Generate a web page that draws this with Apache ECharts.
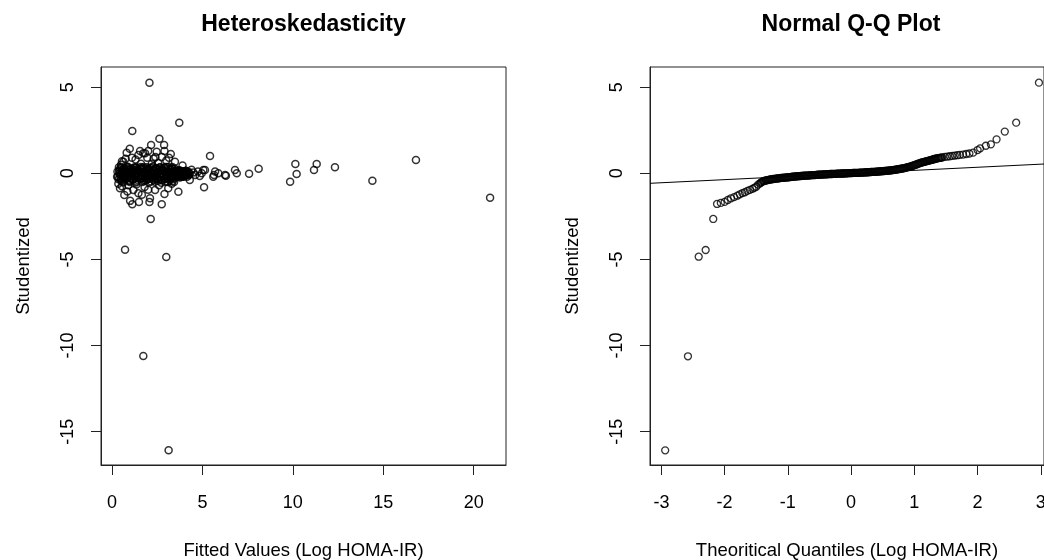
<!DOCTYPE html>
<html>
<head>
<meta charset="utf-8">
<script src="https://cdn.jsdelivr.net/npm/echarts@6/dist/echarts.min.js"></script>
<style>
  html, body { margin: 0; padding: 0; background: #fff; }
  #main { width: 1044px; height: 560px; }
</style>
</head>
<body>
<div id="main"></div>
<script>
// Left panel: fitted values vs studentized residuals
const fittedValues = [
  // dense band
  0.36,0.41,0.44,0.52,0.55,0.61,0.64,0.71,0.74,0.79,0.86,0.90,0.96,0.99,1.06,1.09,
  1.16,1.20,1.24,1.31,1.34,1.41,1.44,1.51,1.56,1.59,1.66,1.69,1.76,1.80,1.84,1.91,
  1.94,2.01,2.06,2.09,2.16,2.19,2.26,2.30,2.34,2.41,2.46,2.49,2.56,2.60,2.64,2.71,
  2.74,2.81,2.86,2.89,2.96,3.00,3.04,3.11,3.14,3.21,3.26,3.29,3.36,3.40,3.44,3.51,
  3.56,3.59,3.66,3.70,3.74,3.81,3.86,3.89,3.96,4.00,4.06,4.11,4.16,4.21,4.26,
  0.39,0.47,0.50,0.58,0.63,0.67,0.73,0.77,0.83,0.88,0.93,0.98,1.03,1.08,1.13,1.18,
  1.22,1.28,1.33,1.38,1.43,1.48,1.53,1.58,1.63,1.68,1.73,1.78,1.83,1.88,1.93,1.98,
  2.03,2.08,2.13,2.18,2.23,2.28,2.33,2.38,2.43,2.48,2.53,2.58,2.63,2.68,2.73,2.78,
  2.83,2.88,2.93,2.98,3.03,3.08,3.13,3.18,3.23,3.28,3.33,3.38,3.43,3.48,3.53,3.58,
  3.63,3.68,3.73,3.78,3.83,3.88,3.93,3.98,4.03,4.08,4.13,4.18,4.23,4.30,
  0.33,0.38,0.43,0.49,0.54,0.59,0.66,0.69,0.76,0.81,0.84,0.91,0.95,1.01,1.04,1.11,
  1.14,1.19,1.26,1.29,1.36,1.39,1.46,1.49,1.54,1.61,1.64,1.71,1.74,1.79,1.86,1.89,
  1.96,1.99,2.04,2.11,2.14,2.21,2.24,2.29,2.36,2.39,2.44,2.51,2.54,2.61,2.66,2.69,
  2.76,2.79,2.84,2.91,2.94,3.01,3.06,3.09,3.16,3.19,3.24,3.31,3.34,3.41,3.46,3.49,
  3.54,3.61,3.64,3.71,3.76,3.84,3.91,3.99,4.09,
  // above the band
  2.07,3.72,1.12,2.62,2.88,2.16,0.98,0.81,1.73,3.25,5.42,2.47,1.46,1.83,0.63,3.48,
  2.30,1.95,2.75,1.30,3.00,2.00,2.55,1.60,0.50,3.90,2.90,1.10,2.20,2.40,0.55,0.75,
  1.55,3.15,
  // below the band
  0.44,0.68,1.18,1.46,1.12,1.49,2.07,2.75,2.10,2.38,3.11,3.67,2.14,0.72,3.00,1.73,
  3.13,1.00,5.09,0.35,0.55,1.80,2.60,3.30,4.30,3.94,2.90,0.90,1.35,2.00,1.65,0.85,
  // right tail and edges
  5.05,5.14,4.96,5.64,5.70,5.88,6.30,6.25,5.60,4.50,4.60,4.75,6.80,6.90,7.58,8.11,
  9.85,10.14,10.21,11.17,11.32,12.33,14.40,16.81,20.91,4.40,4.85,0.28,0.30
];
const studentized = [
  -0.35,0.22,-0.10,0.31,-0.46,0.05,-0.24,0.14,-0.33,0.25,-0.12,0.29,-0.44,0.07,-0.22,0.16,
  -0.37,0.20,-0.08,0.33,-0.48,0.03,-0.26,0.12,-0.34,0.24,-0.11,0.30,-0.45,0.06,-0.23,0.15,
  -0.36,0.21,-0.09,0.32,-0.47,0.04,-0.25,0.13,-0.32,0.26,-0.13,0.28,-0.43,0.08,-0.21,0.17,
  -0.38,0.19,-0.07,0.34,-0.49,0.02,-0.27,0.11,-0.35,0.23,-0.10,0.30,-0.44,0.06,-0.24,0.14,
  -0.20,0.12,-0.06,0.16,-0.24,0.03,-0.13,0.08,-0.18,0.11,-0.05,0.14,-0.20,0.04,-0.10,
  0.10,-0.30,0.36,-0.15,-0.52,0.25,-0.05,0.12,-0.28,0.38,-0.17,-0.50,0.27,-0.03,0.08,-0.32,
  0.34,-0.13,-0.54,0.23,-0.07,0.11,-0.29,0.37,-0.16,-0.51,0.26,-0.04,0.09,-0.31,0.35,-0.14,
  -0.53,0.24,-0.06,0.13,-0.27,0.39,-0.18,-0.49,0.28,-0.02,0.07,-0.33,0.33,-0.12,-0.55,0.22,
  -0.08,0.10,-0.30,0.36,-0.15,-0.50,0.25,-0.05,0.11,-0.29,0.37,-0.16,-0.51,0.26,-0.04,-0.10,
  0.06,-0.16,0.18,-0.08,-0.22,0.12,-0.03,0.05,-0.14,0.15,-0.06,-0.12,0.09,-0.02,
  -0.20,0.35,0.00,-0.40,0.18,-0.15,0.28,-0.30,0.08,-0.18,0.37,0.02,-0.42,0.20,-0.13,0.26,
  -0.32,0.10,-0.22,0.33,-0.02,-0.38,0.16,-0.17,0.30,-0.28,0.06,-0.19,0.36,0.01,-0.41,0.19,
  -0.14,0.27,-0.31,0.09,-0.21,0.34,-0.01,-0.39,0.17,-0.16,0.29,-0.29,0.07,-0.20,0.35,0.00,
  -0.40,0.18,-0.15,0.28,-0.30,0.08,-0.18,0.37,0.02,-0.42,0.20,-0.13,0.26,-0.32,0.10,-0.12,
  0.15,-0.18,0.08,-0.15,0.12,-0.05,0.10,-0.12,0.06,
  5.26,2.94,2.45,2.01,1.64,1.64,1.43,1.20,1.16,1.12,1.00,1.25,1.06,1.16,0.67,0.67,
  0.85,0.90,0.95,0.80,0.75,1.30,0.60,0.55,0.50,0.45,1.30,0.90,0.55,0.95,0.70,0.85,
  1.30,0.90,
  -0.87,-1.26,-0.97,-1.16,-1.80,-1.67,-1.67,-1.80,-1.45,-0.97,-0.87,-1.07,-2.65,-4.43,-4.86,-10.60,
  -16.08,-1.60,-0.81,-0.60,-0.75,-0.80,-0.70,-0.60,-0.39,-0.20,-1.20,-0.70,-0.65,-0.95,-1.25,-1.05,
  0.19,0.19,0.00,-0.10,0.10,0.00,-0.14,-0.10,-0.20,0.05,-0.10,0.10,0.19,0.00,-0.02,0.27,
  -0.49,0.54,-0.04,0.19,0.54,0.35,-0.43,0.77,-1.42,0.20,-0.15,-0.20,0.10
];

// Right panel: normal Q-Q
const qqTheoretical = [
  -2.94,-2.58,-2.41,-2.30,-2.18,-2.12,-2.06,-2.00,-1.95,-1.90,-1.85,-1.80,-1.76,-1.72,-1.68,-1.64,
  -1.60,-1.56,-1.53,-1.50,-1.47,
  -1.44,-1.41,-1.38,-1.35,-1.32,-1.29,-1.26,-1.23,-1.20,-1.17,-1.14,-1.11,-1.08,-1.05,-1.02,-0.99,
  -0.96,-0.93,-0.90,-0.87,-0.84,-0.81,-0.78,-0.75,-0.72,-0.69,-0.66,-0.63,-0.60,-0.57,-0.54,-0.51,
  -0.48,-0.45,-0.42,-0.39,-0.36,-0.33,-0.30,-0.27,-0.24,-0.21,-0.18,-0.15,-0.12,-0.09,-0.06,-0.03,
  0.00,0.03,0.06,0.09,0.12,0.15,0.18,0.21,0.24,0.27,0.30,0.33,0.36,0.39,0.42,0.45,
  0.48,0.51,0.54,0.57,0.60,0.63,0.66,0.69,0.72,0.75,0.78,0.81,0.84,0.87,0.90,0.93,
  0.96,0.99,1.02,1.05,1.08,1.11,1.14,1.17,1.20,1.23,1.26,1.29,1.32,1.35,1.38,1.41,1.44,
  -1.425,-1.395,-1.365,-1.335,-1.305,-1.275,-1.245,-1.215,-1.185,-1.155,-1.125,-1.095,
  -1.065,-1.035,-1.005,-0.975,-0.945,-0.915,-0.885,-0.855,-0.825,-0.795,-0.765,-0.735,
  -0.705,-0.675,-0.645,-0.615,-0.585,-0.555,-0.525,-0.495,-0.465,-0.435,-0.405,-0.375,
  -0.345,-0.315,-0.285,-0.255,-0.225,-0.195,-0.165,-0.135,-0.105,-0.075,-0.045,-0.015,
  0.015,0.045,0.075,0.105,0.135,0.165,0.195,0.225,0.255,0.285,0.315,0.345,
  0.375,0.405,0.435,0.465,0.495,0.525,0.555,0.585,0.615,0.645,0.675,0.705,
  0.735,0.765,0.795,0.825,0.855,0.885,0.915,0.945,0.975,1.005,1.035,1.065,
  1.095,1.125,1.155,1.185,1.215,1.245,1.275,1.305,1.335,1.365,1.395,1.425,
  1.48,1.52,1.56,1.60,1.64,1.68,1.72,1.77,1.82,1.87,1.93,2.00,2.04,2.13,2.21,2.30,
  2.43,2.61,2.97
];
const qqSample = [
  -16.08,-10.62,-4.84,-4.45,-2.65,-1.78,-1.72,-1.66,-1.55,-1.45,-1.38,-1.30,-1.22,-1.15,-1.10,-1.02,
  -0.96,-0.90,-0.84,-0.78,-0.66,
  -0.58,-0.50,-0.45,-0.42,-0.39,-0.37,-0.35,-0.33,-0.32,-0.30,-0.29,-0.27,-0.26,-0.25,-0.24,-0.23,
  -0.22,-0.20,-0.19,-0.18,-0.17,-0.16,-0.15,-0.14,-0.13,-0.13,-0.12,-0.11,-0.10,-0.10,-0.09,-0.08,
  -0.08,-0.07,-0.06,-0.06,-0.05,-0.04,-0.04,-0.03,-0.03,-0.02,-0.02,-0.01,-0.01,0.00,0.00,0.01,
  0.01,0.02,0.02,0.03,0.03,0.04,0.04,0.05,0.06,0.06,0.07,0.08,0.08,0.09,0.10,0.11,
  0.12,0.13,0.14,0.15,0.16,0.17,0.19,0.20,0.22,0.24,0.26,0.28,0.30,0.33,0.36,0.39,
  0.42,0.46,0.50,0.54,0.58,0.62,0.65,0.68,0.71,0.74,0.77,0.80,0.83,0.86,0.88,0.90,0.92,
  -0.54,-0.47,-0.43,-0.40,-0.38,-0.36,-0.34,-0.325,-0.31,-0.295,-0.28,-0.265,
  -0.255,-0.245,-0.235,-0.225,-0.21,-0.195,-0.185,-0.175,-0.165,-0.155,-0.145,-0.135,
  -0.13,-0.125,-0.115,-0.105,-0.10,-0.095,-0.085,-0.08,-0.075,-0.065,-0.06,-0.055,
  -0.045,-0.04,-0.035,-0.03,-0.025,-0.02,-0.015,-0.01,-0.005,0.00,0.005,0.01,
  0.015,0.02,0.025,0.03,0.035,0.04,0.045,0.055,0.06,0.065,0.075,0.08,
  0.085,0.095,0.105,0.115,0.125,0.135,0.145,0.155,0.165,0.18,0.195,0.21,
  0.23,0.25,0.27,0.29,0.315,0.345,0.375,0.405,0.44,0.48,0.52,0.56,
  0.60,0.635,0.665,0.695,0.725,0.755,0.785,0.815,0.845,0.87,0.89,0.91,
  0.95,0.97,0.99,1.01,1.03,1.05,1.07,1.09,1.12,1.15,1.20,1.35,1.45,1.60,1.68,1.97,
  2.42,2.94,5.26
];
const qqLineX = [-3.18, 3.05];
const qqLineY = [-0.58, 0.54];

const leftXTicks = [0, 5, 10, 15, 20];
const rightXTicks = [-3, -2, -1, 0, 1, 2, 3];
const yTicks = [-15, -10, -5, 0, 5];

const FONT = "'Liberation Sans', Arial, sans-serif";
const INK = '#222';

function xAxisFor(gridIndex, min, max, ticks, name) {
  return {
    type: 'value', gridIndex, min, max,
    axisLine: { show: true, onZero: false, lineStyle: { color: INK, width: 1 } },
    splitLine: { show: false },
    axisTick: { show: true, length: 10, customValues: ticks, lineStyle: { color: INK, width: 1 } },
    axisLabel: { customValues: ticks, margin: 29, fontSize: 18, color: '#000', fontFamily: FONT },
    name, nameLocation: 'middle', nameGap: 76,
    nameTextStyle: { fontSize: 18.5, color: '#000', fontFamily: FONT }
  };
}

function yAxisFor(gridIndex) {
  return {
    type: 'value', gridIndex, min: -16.93, max: 6.17,
    axisLine: { show: true, onZero: false, lineStyle: { color: INK, width: 1 } },
    splitLine: { show: false },
    axisTick: { show: true, length: 10, customValues: yTicks, lineStyle: { color: INK, width: 1 } },
    axisLabel: { customValues: yTicks, rotate: 90, margin: 24, fontSize: 18, color: '#000', fontFamily: FONT },
    name: 'Studentized', nameLocation: 'middle', nameGap: 68, nameRotate: 90,
    nameTextStyle: { fontSize: 18.5, color: '#000', fontFamily: FONT }
  };
}

const chart = echarts.init(document.getElementById('main'));
chart.setOption({
  animation: false,
  backgroundColor: '#fff',
  title: [
    { text: 'Heteroskedasticity', left: 303.5, top: 13, padding: 0, textAlign: 'center',
      textStyle: { fontSize: 23, fontWeight: 'bold', color: '#000', fontFamily: FONT } },
    { text: 'Normal Q-Q Plot', left: 851, top: 13, padding: 0, textAlign: 'center',
      textStyle: { fontSize: 23, fontWeight: 'bold', color: '#000', fontFamily: FONT } }
  ],
  grid: [
    { left: 101, top: 67, width: 405, height: 398, show: true, borderColor: INK, borderWidth: 1,
      backgroundColor: 'transparent', containLabel: false, outerBoundsMode: 'none' },
    { left: 650, top: 67, width: 394, height: 398, show: true, borderColor: INK, borderWidth: 1,
      backgroundColor: 'transparent', containLabel: false, outerBoundsMode: 'none' }
  ],
  xAxis: [
    xAxisFor(0, -0.61, 21.79, leftXTicks, 'Fitted Values (Log HOMA-IR)'),
    xAxisFor(1, -3.18, 3.05, rightXTicks, 'Theoritical Quantiles (Log HOMA-IR)')
  ],
  yAxis: [yAxisFor(0), yAxisFor(1)],
  series: [
    {
      type: 'scatter', xAxisIndex: 0, yAxisIndex: 0, silent: true,
      symbol: 'circle', symbolSize: 7,
      itemStyle: { color: 'transparent', borderColor: '#000', borderWidth: 1.5 },
      data: fittedValues.map((x, i) => [x, studentized[i]])
    },
    {
      type: 'scatter', xAxisIndex: 1, yAxisIndex: 1, silent: true,
      symbol: 'circle', symbolSize: 7,
      itemStyle: { color: 'transparent', borderColor: '#000', borderWidth: 1.3 },
      data: qqTheoretical.map((x, i) => [x, qqSample[i]])
    },
    {
      type: 'line', xAxisIndex: 1, yAxisIndex: 1, silent: true,
      showSymbol: false, lineStyle: { color: '#000', width: 1 },
      data: qqLineX.map((x, i) => [x, qqLineY[i]])
    }
  ]
});
</script>
</body>
</html>
